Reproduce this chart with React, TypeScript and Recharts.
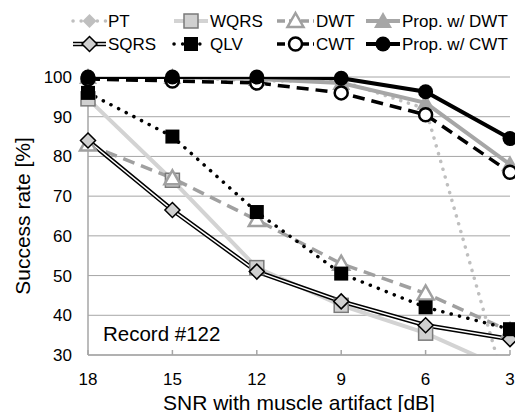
import React from 'react';
import { LineChart, Line, XAxis, YAxis, CartesianGrid, Legend, LabelList, Customized } from 'recharts';

const snrLabels = ['18', '15', '12', '9', '6', '3'];
const ptValues = [100, 100, 99, 99, 92, 18];
const wqrsValues = [94.5, 74, 52, 42.5, 35.5, 26];
const dwtValues = [83, 74.5, 64, 53, 45.5, 36];
const propDwtValues = [100, 100, 99.5, 98.5, 93.5, 78];
const sqrsValues = [84, 66.5, 51, 43.5, 37.5, 34];
const qlvValues = [96, 85, 66, 50.5, 42, 36.5];
const cwtValues = [99.5, 99, 98.5, 96, 90.5, 76];
const propCwtValues = [100, 100, 100, 99.7, 96.3, 84.5];
const yTicks = [30, 40, 50, 60, 70, 80, 90, 100];
const recordLabel = 'Record #122';
const xTitle = 'SNR with muscle artifact [dB]';
const yTitle = 'Success rate [%]';

const data = snrLabels.map((snr, i) => ({
  snr,
  PT: ptValues[i],
  WQRS: wqrsValues[i],
  DWT: dwtValues[i],
  PropDWT: propDwtValues[i],
  SQRS: sqrsValues[i],
  QLV: qlvValues[i],
  CWT: cwtValues[i],
  PropCWT: propCwtValues[i],
}));

const FONT = '"Liberation Sans", Arial, sans-serif';
const Y_MIN = 30;
const Y_MAX = 100;

type Kind = 'pt' | 'wqrs' | 'dwt' | 'propDwt' | 'sqrs' | 'qlv' | 'cwt' | 'propCwt';

function Marker({ kind, cx, cy }: { kind: Kind; cx: number; cy: number }) {
  switch (kind) {
    case 'pt': {
      const h = 7;
      return <polygon points={`${cx},${cy - h} ${cx + h},${cy} ${cx},${cy + h} ${cx - h},${cy}`} fill="#bfbfbf" />;
    }
    case 'wqrs':
      return <rect x={cx - 7} y={cy - 7} width={14} height={14} fill="#d0d0d0" stroke="#7a7a7a" strokeWidth={1.5} />;
    case 'dwt':
      return (
        <polygon
          points={`${cx},${cy - 8} ${cx + 8},${cy + 6} ${cx - 8},${cy + 6}`}
          fill="#ffffff"
          stroke="#a0a0a0"
          strokeWidth={2.5}
          strokeLinejoin="miter"
        />
      );
    case 'propDwt':
      return <polygon points={`${cx},${cy - 9} ${cx + 9},${cy + 7} ${cx - 9},${cy + 7}`} fill="#a6a6a6" />;
    case 'sqrs': {
      const h = 7.5;
      return (
        <polygon
          points={`${cx},${cy - h} ${cx + h},${cy} ${cx},${cy + h} ${cx - h},${cy}`}
          fill="#d0d0d0"
          stroke="#000"
          strokeWidth={1.5}
        />
      );
    }
    case 'qlv':
      return <rect x={cx - 7} y={cy - 7} width={14} height={14} fill="#000" />;
    case 'cwt':
      return <circle cx={cx} cy={cy} r={6.5} fill="#fff" stroke="#000" strokeWidth={2.5} />;
    case 'propCwt':
      return <circle cx={cx} cy={cy} r={7.5} fill="#000" />;
    default:
      return null;
  }
}

type Series = {
  key: string;
  name: string;
  stroke: string;
  width: number;
  dash?: string;
  round?: boolean;
  kind: Kind;
  double?: boolean;
};

const series: Series[] = [
  { key: 'PT', name: 'PT', stroke: '#bfbfbf', width: 3.5, dash: '0.1 8', round: true, kind: 'pt' },
  { key: 'WQRS', name: 'WQRS', stroke: '#d3d3d3', width: 4, kind: 'wqrs' },
  { key: 'DWT', name: 'DWT', stroke: '#a0a0a0', width: 3.5, dash: '12 7', kind: 'dwt' },
  { key: 'PropDWT', name: 'Prop. w/ DWT', stroke: '#a6a6a6', width: 4, kind: 'propDwt' },
  { key: 'SQRS', name: 'SQRS', stroke: '#000', width: 4.5, kind: 'sqrs', double: true },
  { key: 'QLV', name: 'QLV', stroke: '#000', width: 3.5, dash: '0.1 8.5', round: true, kind: 'qlv' },
  { key: 'CWT', name: 'CWT', stroke: '#000', width: 3.5, dash: '12 7', kind: 'cwt' },
  { key: 'PropCWT', name: 'Prop. w/ CWT', stroke: '#000', width: 4, kind: 'propCwt' },
];

const makeMarkerContent = (kind: Kind) => (props: any) => {
  const vb = props.viewBox || {};
  const cx = vb.x ?? props.x;
  const cy = vb.y ?? props.y;
  const v = Number(props.value);
  if (cx == null || cy == null || !isFinite(v) || v < Y_MIN || v > Y_MAX) return null;
  return <Marker kind={kind} cx={cx} cy={cy} />;
};

const legendCols = [
  { x: 73, w: 33 },
  { x: 174, w: 34 },
  { x: 277, w: 37 },
  { x: 366, w: 34 },
];
const legendRows = [21, 44];

function LegendBox() {
  return (
    <svg width={515} height={60} style={{ display: 'block' }}>
      {series.map((s, i) => {
        const col = legendCols[i % 4];
        const cy = legendRows[Math.floor(i / 4)];
        const x1 = col.x;
        const x2 = col.x + col.w;
        const mx = (x1 + x2) / 2;
        return (
          <g key={s.key}>
            <line
              x1={x1}
              x2={x2}
              y1={cy}
              y2={cy}
              stroke={s.stroke}
              strokeWidth={s.width}
              strokeDasharray={s.dash ? (s.round ? s.dash : '8 4') : undefined}
              strokeLinecap={s.round ? 'round' : 'butt'}
            />
            {s.double && <line x1={x1} x2={x2} y1={cy} y2={cy} stroke="#fff" strokeWidth={1.5} />}
            <Marker kind={s.kind} cx={mx} cy={cy} />
            <text x={x2 + 2} y={cy + 6} fontSize={17} fontFamily={FONT} fill="#000">
              {s.name}
            </text>
          </g>
        );
      })}
    </svg>
  );
}

const XTick = (props: any) => {
  const { x, y, payload } = props;
  return (
    <g>
      <line x1={x} x2={x} y1={y - 5} y2={y} stroke="#a6a6a6" strokeWidth={1.5} />
      <text x={x} y={y + 30} textAnchor="middle" fontSize={17} fontFamily={FONT} fill="#000">
        {payload.value}
      </text>
    </g>
  );
};

const RecordText = () => (
  <text x={103} y={341} fontSize={20.5} fontFamily={FONT} fill="#000">
    {recordLabel}
  </text>
);

export default function App() {
  return (
    <div style={{ position: 'absolute', left: 0, top: 0, width: 515, height: 412, background: '#fff' }}>
      <LineChart width={515} height={412} data={data} margin={{ top: 77, right: 5, bottom: 0, left: 0 }}>
        <CartesianGrid horizontal vertical={false} stroke="#a6a6a6" strokeWidth={1} />
        <XAxis
          dataKey="snr"
          interval={0}
          height={57}
          axisLine={{ stroke: '#a6a6a6', strokeWidth: 1.5 }}
          tickLine={false}
          tickSize={0}
          tickMargin={0}
          tick={<XTick />}
          label={{ value: xTitle, position: 'insideBottom', offset: 2, fontSize: 21, fontFamily: FONT, fill: '#000' }}
        />
        <YAxis
          width={88}
          domain={[Y_MIN, Y_MAX]}
          ticks={yTicks}
          allowDataOverflow
          axisLine={{ stroke: '#a6a6a6', strokeWidth: 1.5 }}
          tickLine={false}
          tickSize={0}
          tickMargin={16}
          tick={{ fontSize: 17, fontFamily: FONT, fill: '#000' }}
          label={{
            value: yTitle,
            angle: -90,
            position: 'insideLeft',
            offset: 23,
            fontSize: 21,
            fontFamily: FONT,
            fill: '#000',
            style: { textAnchor: 'middle' },
          }}
        />
        <Legend
          layout="horizontal"
          verticalAlign="middle"
          align="center"
          wrapperStyle={{ top: 0, left: 0, width: 515, height: 60 }}
          content={() => <LegendBox />}
        />
        {series.map((s) =>
          s.double ? (
            [
              <Line
                key={s.key + '-outer'}
                dataKey={s.key}
                stroke={s.stroke}
                strokeWidth={s.width}
                dot={false}
                activeDot={false}
                isAnimationActive={false}
                legendType="none"
              />,
              <Line
                key={s.key + '-inner'}
                dataKey={s.key}
                name={s.name}
                stroke="#fff"
                strokeWidth={1.5}
                dot={false}
                activeDot={false}
                isAnimationActive={false}
              >
                <LabelList dataKey={s.key} content={makeMarkerContent(s.kind)} />
              </Line>,
            ]
          ) : (
            <Line
              key={s.key}
              dataKey={s.key}
              name={s.name}
              stroke={s.stroke}
              strokeWidth={s.width}
              strokeDasharray={s.dash}
              strokeLinecap={s.round ? 'round' : 'butt'}
              dot={false}
              activeDot={false}
              isAnimationActive={false}
            >
              <LabelList dataKey={s.key} content={makeMarkerContent(s.kind)} />
            </Line>
          )
        )}
        <Customized component={RecordText} />
      </LineChart>
    </div>
  );
}
